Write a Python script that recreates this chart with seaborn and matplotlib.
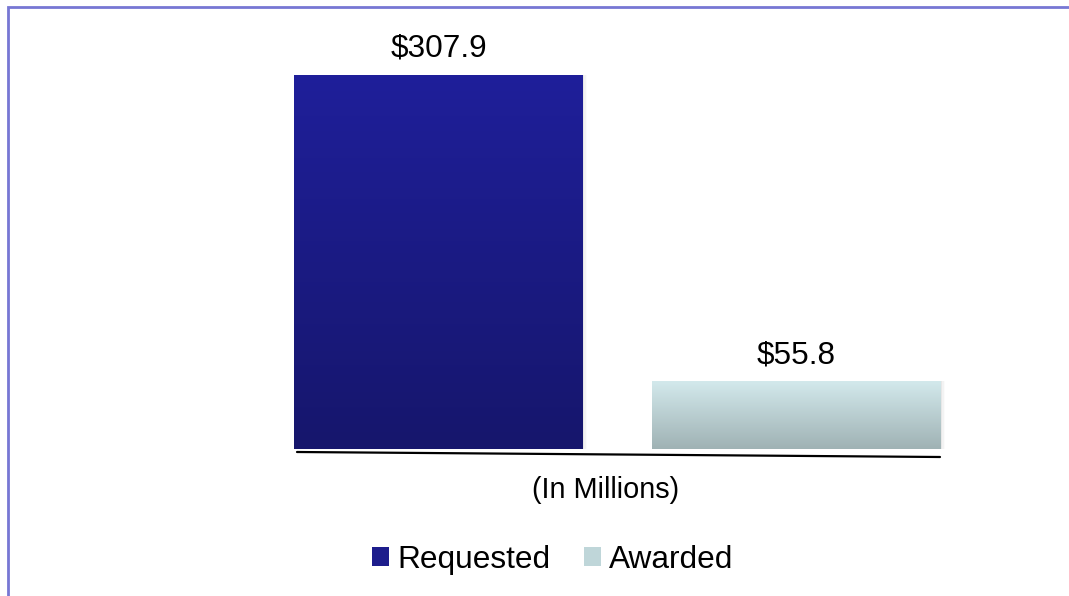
import numpy as np
import pandas as pd
import matplotlib
matplotlib.use("Agg")
import matplotlib.pyplot as plt
import seaborn as sns
from matplotlib.patches import Rectangle, Patch
from matplotlib.lines import Line2D
from matplotlib.colors import LinearSegmentedColormap

categories = ["Requested", "Awarded"]
values = [307.9, 55.8]
value_labels = ["$307.9", "$55.8"]
axis_label = "(In Millions)"

grad_top = ["#1f1f9a", "#d3e9ec"]
grad_bottom = ["#16166c", "#9fb2b4"]
legend_colors = ["#1d1d8c", "#bfd6d9"]

sns.set_theme(style="white")
plt.rcParams["font.family"] = ["Liberation Sans", "DejaVu Sans"]

W, H = 1069, 596
fig = plt.figure(figsize=(W / 100, H / 100), dpi=100)
ax = fig.add_axes([288.1 / W, 1 - 449 / H, 658.7 / W, 413 / H])

df = pd.DataFrame({"cat": categories, "val": values})
sns.barplot(data=df, x="cat", y="val", hue="cat", palette=legend_colors,
            width=0.807, ax=ax, legend=False, dodge=False)
ax.set_xlim(-0.42, 1.42)
ax.set_ylim(0, 340)
ax.axis("off")

# gradient fills
for i, p in enumerate(list(ax.patches)):
    x0, y0 = p.get_x(), p.get_y()
    w, h = p.get_width(), p.get_height()
    # soft shadow
    for k, a in enumerate([0.10, 0.06, 0.03]):
        sh = Rectangle((x0 + w, y0), 0.004 * (k + 1), h, color="gray",
                       alpha=a, lw=0, zorder=1)
        ax.add_patch(sh)
    cmap = LinearSegmentedColormap.from_list("g%d" % i, [grad_bottom[i], grad_top[i]])
    grad = np.linspace(0, 1, 256).reshape(-1, 1)
    im = ax.imshow(grad, extent=[x0, x0 + w, y0, y0 + h], origin="lower",
                   cmap=cmap, aspect="auto", zorder=2)
    im.set_clip_path(p)
    p.set_facecolor("none")
    p.set_edgecolor("none")
    ax.annotate(value_labels[i], xy=(x0 + w / 2, y0 + h), xytext=(0, 13),
                textcoords="offset points", ha="center", va="baseline",
                fontsize=22.7, color="black")
ax.set_xlim(-0.42, 1.42)
ax.set_ylim(0, 340)

# slanted baseline
fig.add_artist(Line2D([297 / W, 940 / W], [1 - 452 / H, 1 - 457 / H],
                      color="black", lw=1.6))

fig.text(606 / W, 1 - 498 / H, axis_label, ha="center", va="baseline",
         fontsize=20.8, color="black")

handles = [Patch(facecolor=legend_colors[i], edgecolor="none", label=categories[i])
           for i in range(len(categories))]
leg = fig.legend(handles=handles, loc="center", bbox_to_anchor=(552.5 / W, 1 - 560 / H),
                 ncol=2, frameon=False, fontsize=22.8, handlelength=0.55, handleheight=0.55,
                 handletextpad=0.25, columnspacing=1.05, borderpad=0, borderaxespad=0)
for t in leg.get_texts():
    t.set_color("black")

# outer frame
top = 1 - 7 / H
fig.add_artist(Rectangle((8 / W, -0.2), 1.2, top + 0.2,
                         transform=fig.transFigure, fill=False,
                         edgecolor="#7777d4", lw=2.0, clip_on=False))

fig.savefig("out.png", dpi=100)
